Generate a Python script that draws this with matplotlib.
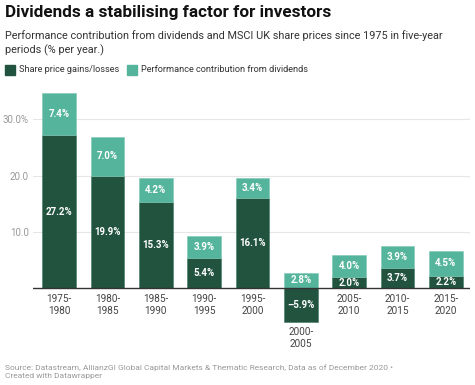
import matplotlib.pyplot as plt
from matplotlib.patches import Rectangle

plt.rcParams['font.family'] = ['Roboto', 'DejaVu Sans']

periods = ['1975-\n1980', '1980-\n1985', '1985-\n1990', '1990-\n1995', '1995-\n2000',
           '2000-\n2005', '2005-\n2010', '2010-\n2015', '2015-\n2020']
share_price = [27.2, 19.9, 15.3, 5.4, 16.1, -5.9, 2.0, 3.7, 2.2]
dividends = [7.4, 7.0, 4.2, 3.9, 3.4, 2.8, 4.0, 3.9, 4.5]
yticks = [10, 20, 30]
ytick_labels = ['10.0', '20.0', '30.0%']

dark = '#21533f'
light = '#55b59c'

fig = plt.figure(figsize=(4.75, 3.85), dpi=100)
ax = fig.add_axes([33 / 475, 1 - 325 / 385, 437 / 475, 235 / 385])

x = list(range(len(periods)))
bottoms = [max(s, 0) for s in share_price]
ax.bar(x, share_price, width=0.7, color=dark, edgecolor='#3f7a63', linewidth=0.4, zorder=3)
ax.bar(x, dividends, width=0.7, bottom=bottoms, color=light, edgecolor='#7fcab6', linewidth=0.4, zorder=3)

for i in x:
    s, d, b = share_price[i], dividends[i], bottoms[i]
    ax.text(i, s / 2, f'{s:.1f}%'.replace('-', '\u2013'), ha='center', va='center',
            color='white', fontsize=7, fontweight='bold', zorder=4)
    ax.text(i, b + d / 2, f'{d:.1f}%', ha='center', va='center',
            color='white', fontsize=7, fontweight='bold', zorder=4)
    ybase = min(s, 0)
    ax.annotate(periods[i], (i, ybase), xytext=(0, -4), textcoords='offset points',
                ha='center', va='top', fontsize=7.2, color='#444444', linespacing=1.2)

ax.axhline(0, color='#333333', linewidth=1, zorder=5)
ax.set_xlim(-0.54, 8.5)
ax.set_ylim(-6.5, 35.2)
ax.set_yticks(yticks)
ax.set_yticklabels(ytick_labels)
ax.yaxis.grid(True, color='#e6e6e6', linewidth=0.8, zorder=0)
ax.tick_params(axis='y', length=0, labelsize=7, labelcolor='#999999', pad=3)
ax.set_xticks([])
for sp in ax.spines.values():
    sp.set_visible(False)

fig.text(5 / 475, 1 - 13 / 385, 'Dividends a stabilising factor for investors',
         fontsize=12.3, fontweight='bold', color='#111111', va='center')
fig.text(5 / 475, 1 - 43 / 385,
         'Performance contribution from dividends and MSCI UK share prices since 1975 in five-year\nperiods (% per year.)',
         fontsize=7.8, color='#333333', va='center', linespacing=1.35)

fig.patches.append(Rectangle((5 / 475, 1 - 75 / 385), 10 / 475, 10 / 385,
                             transform=fig.transFigure, color=dark))
fig.text(19 / 475, 1 - 70 / 385, 'Share price gains/losses', fontsize=6.6, color='#333333', va='center')
fig.patches.append(Rectangle((127 / 475, 1 - 75 / 385), 10 / 475, 10 / 385,
                             transform=fig.transFigure, color=light))
fig.text(141 / 475, 1 - 70 / 385, 'Performance contribution from dividends', fontsize=6.6, color='#333333', va='center')

fig.text(5 / 475, 1 - 372 / 385,
         'Source: Datastream, AllianzGI Global Capital Markets & Thematic Research, Data as of December 2020 \u2022\nCreated with Datawrapper',
         fontsize=6.0, color='#999999', va='center', linespacing=1.4)

fig.savefig('out.png', dpi=100)
